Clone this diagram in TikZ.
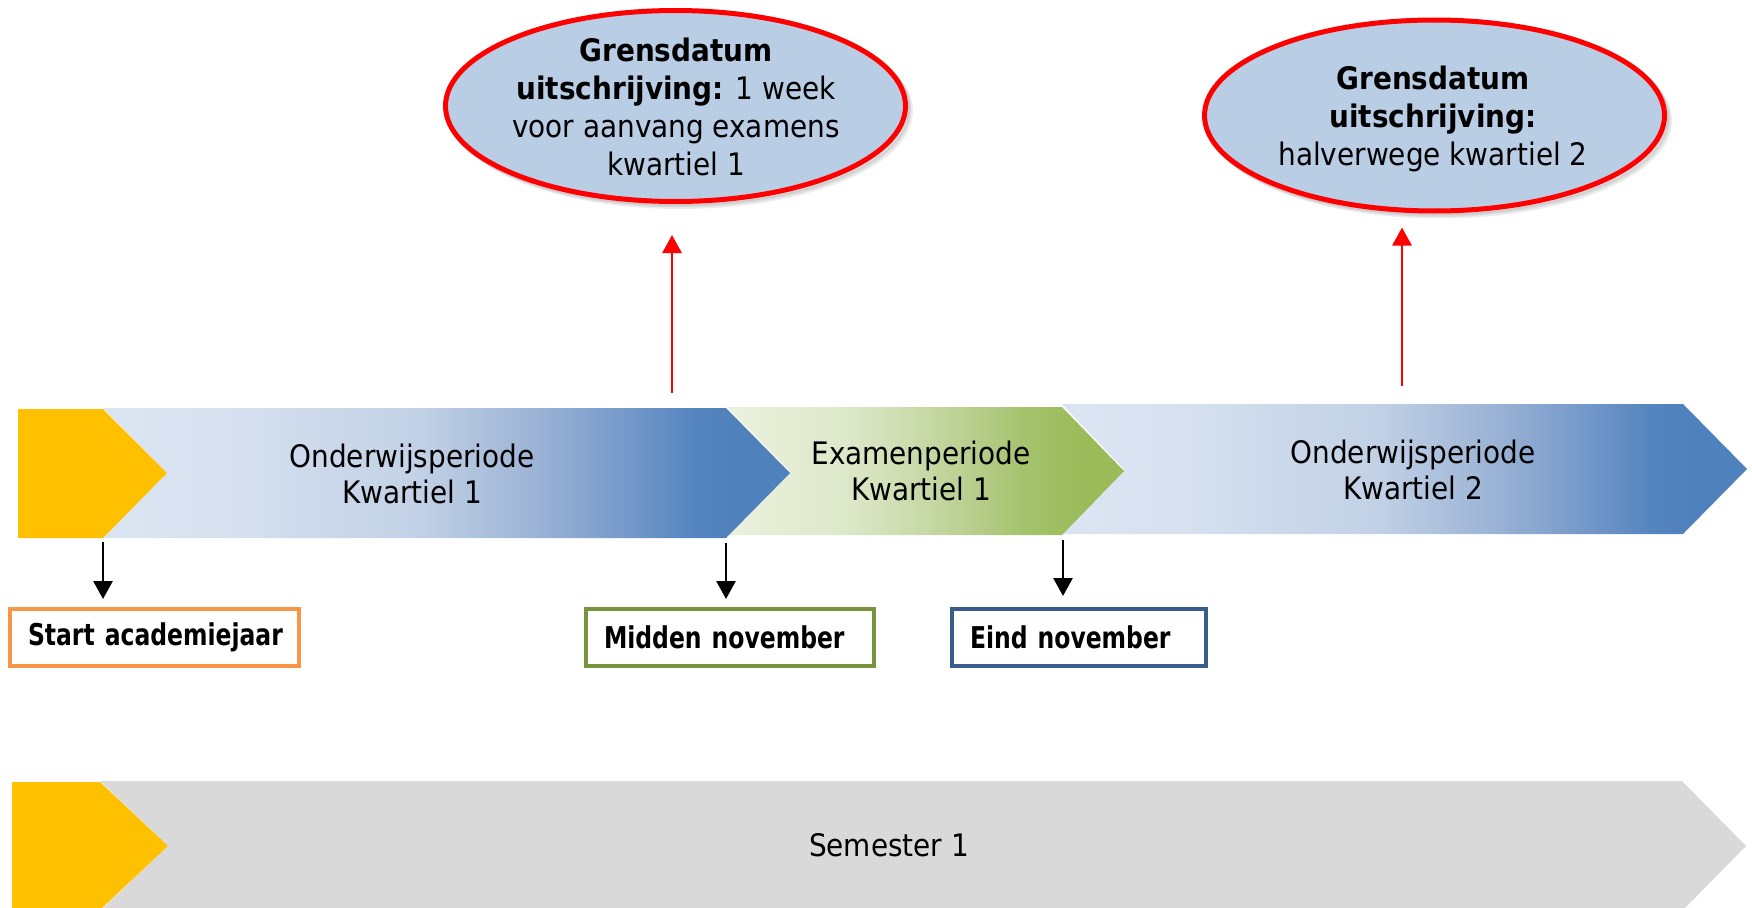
\documentclass[tikz,border=0pt]{standalone}
\usepackage{fontspec}
\setmainfont{DejaVu Sans Condensed}
\newfontfamily\narrowfont[FakeStretch=0.87]{DejaVu Sans Condensed}
\usetikzlibrary{arrows.meta,shapes.geometric}
\definecolor{chevyellow}{HTML}{FFC000}
\definecolor{chevgray}{HTML}{D9D9D9}
\definecolor{ellfill}{HTML}{B9CDE5}
\definecolor{boxorange}{HTML}{F79646}
\definecolor{boxgreen}{HTML}{77933C}
\definecolor{boxblue}{HTML}{385D8A}
\pgfdeclarehorizontalshading{bluegrad}{100bp}{
 rgb(0bp)=(0.86,0.90,0.95);
 rgb(25bp)=(0.86,0.90,0.95);
 rgb(34bp)=(0.84,0.88,0.94);
 rgb(48bp)=(0.76,0.82,0.90);
 rgb(56bp)=(0.62,0.71,0.84);
 rgb(63bp)=(0.46,0.60,0.79);
 rgb(68bp)=(0.33,0.52,0.75);
 rgb(71bp)=(0.31,0.506,0.741);
 rgb(100bp)=(0.31,0.506,0.741)}
\pgfdeclarehorizontalshading{greengrad}{100bp}{
 rgb(0bp)=(0.92,0.945,0.87);
 rgb(25bp)=(0.92,0.945,0.87);
 rgb(40bp)=(0.87,0.91,0.79);
 rgb(50bp)=(0.78,0.85,0.65);
 rgb(57bp)=(0.71,0.80,0.53);
 rgb(63bp)=(0.64,0.76,0.42);
 rgb(70bp)=(0.608,0.733,0.349);
 rgb(100bp)=(0.608,0.733,0.349)}
\begin{document}
\begin{tikzpicture}[x=1pt,y=-1pt,
  lbl/.style={font=\fontsize{31}{36}\selectfont, align=center, inner sep=0},
  ellshadow/.style={ellipse, draw=black, draw opacity=0.07, line width=5pt, minimum width=460pt, minimum height=191pt, inner sep=0},
  ell/.style={ellipse, draw=red, line width=5pt, fill=ellfill, minimum width=460pt, minimum height=191pt, inner sep=0},
  elltext/.style={font=\fontsize{31}{38}\selectfont, align=center, inner sep=0},
  datebox/.style={draw, line width=4pt, fill=white, minimum height=57pt, inner xsep=18pt, inner ysep=0, align=left, anchor=north west, font=\narrowfont\bfseries\fontsize{30}{36}\selectfont},
  blkarr/.style={-{Triangle[width=19pt,length=18pt]}, line width=2.8pt, black},
  redarr/.style={-{Triangle[width=19pt,length=18pt]}, line width=2.8pt, red}]
\useasboundingbox (0,0) rectangle (1752,907);
\begin{scope}
\clip (0,0) rectangle (1752,907);
% chevrons row 1
\shade[shading=bluegrad] (1062,404) -- (1683,404) -- (1747,469) -- (1683,534) -- (1062,534) -- (1124,469) -- cycle;
\shade[shading=greengrad] (727,407) -- (1062,407) -- (1124,471) -- (1062,535) -- (727,535) -- (790,471) -- cycle;
\shade[shading=bluegrad] (103,408) -- (726,408) -- (790,473) -- (726,538) -- (103,538) -- (167,473) -- cycle;
\fill[chevyellow] (18,409) -- (103,409) -- (167,473) -- (103,538) -- (18,538) -- cycle;
% row 2
\fill[chevgray] (100,781) -- (1682,781) -- (1746,846) -- (1682,911) -- (100,911) -- (168,846) -- cycle;
\fill[chevyellow] (12,782) -- (100,782) -- (168,846) -- (100,910) -- (12,910) -- cycle;
\end{scope}
% labels
\node[lbl] (t1) at (412,474) {Onderwijsperiode\\Kwartiel 1};
\node[lbl] (t2) at (921,471) {Examenperiode\\Kwartiel 1};
\node[lbl] (t3) at (1413,470) {Onderwijsperiode\\Kwartiel 2};
\node[lbl] (t4) at (889,845) {Semester 1};
% named points on chevrons
\coordinate (ybot) at (103,538);
\coordinate (b1bot) at (726,538);
\coordinate (gbot) at (1063,535);
\coordinate (b1top) at (672,408);
\coordinate (b2top) at (1402,404);
% ellipses (soft shadow, then ellipse)
\foreach \d in {2,3.5,5} {
  \node[ellshadow] at (675.5+\d,106+\d) {};
  \node[ellshadow] at (1434.5+\d,115.5+\d) {};
}
\node[ell] (e1) at (675.5,106) {};
\node[elltext] (e1t) at (676,107) {\textbf{Grensdatum}\\\textbf{uitschrijving:} 1 week\\voor aanvang examens\\kwartiel 1};
\node[ell] (e2) at (1434.5,115.5) {};
\node[elltext] (e2t) at (1433,118.5) {\textbf{Grensdatum}\\\textbf{uitschrijving:}\\halverwege kwartiel 2};
% boxes
\node[datebox, draw=boxorange, text width=253pt] (start) at (8,607) {\raisebox{-3pt}{Start academiejaar}};
\node[datebox, draw=boxgreen, text width=252pt] (midden) at (584,607) {\raisebox{-3pt}{Midden november}};
\node[datebox, draw=boxblue, text width=218pt] (eind) at (950,607) {\raisebox{-3pt}{Eind november}};
% arrows
\draw[blkarr, shorten <=4pt, shorten >=8pt] (ybot) -- (ybot |- start.north);
\draw[blkarr, shorten <=5pt, shorten >=8pt] (b1bot) -- (b1bot |- midden.north);
\draw[blkarr, shorten <=5pt, shorten >=11pt] (gbot) -- (gbot |- eind.north);
\draw[redarr, shorten <=15pt, shorten >=31pt] (b1top) -- (b1top |- e1.south);
\draw[redarr, shorten <=18pt, shorten >=14pt] (b2top) -- (b2top |- e2.south);
\end{tikzpicture}
\end{document}
